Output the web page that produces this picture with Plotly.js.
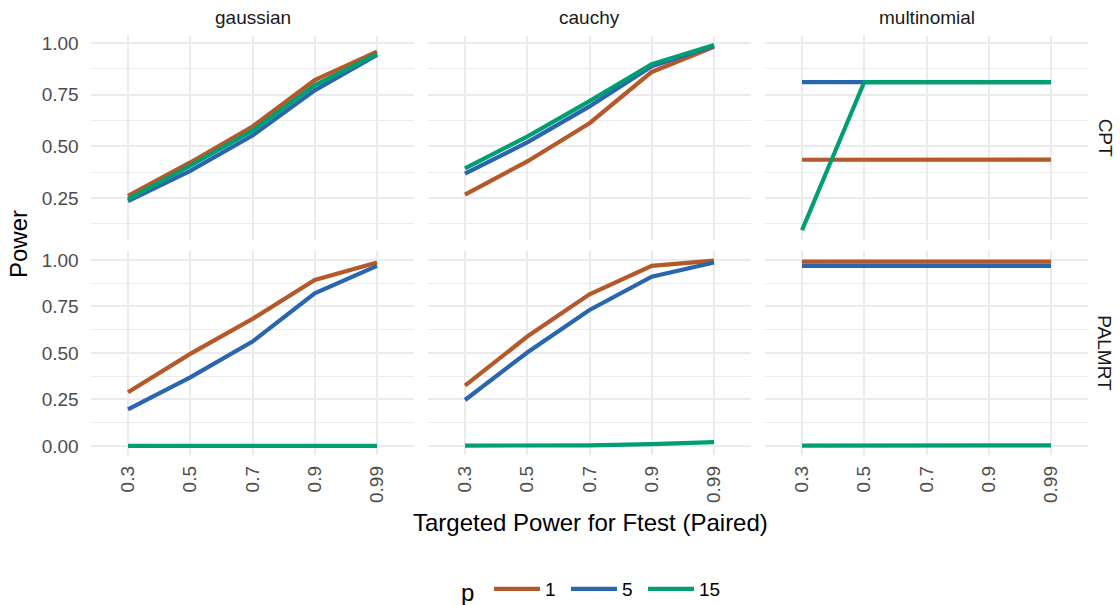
<!DOCTYPE html>
<html>
<head>
<meta charset="utf-8">
<script src="https://cdn.plot.ly/plotly-3.0.1.min.js"></script>
<style>html,body{margin:0;padding:0;background:#fff;}#chart{width:1120px;height:605px;}</style>
</head>
<body>
<div id="chart"></div>
<script>
// ---- Data ----
const targetPower = ["0.3", "0.5", "0.7", "0.9", "0.99"];
const distributions = ["gaussian", "cauchy", "multinomial"];
const tests = ["CPT", "PALMRT"];
const pLevels = ["1", "5", "15"];
const pColors = ["#B5592B", "#2A66AE", "#009E73"];

// CPT row
const cpt_gaussian_p1  = [0.260, 0.422, 0.596, 0.820, 0.958];
const cpt_gaussian_p5  = [0.235, 0.381, 0.552, 0.771, 0.942];
const cpt_gaussian_p15 = [0.245, 0.406, 0.576, 0.795, 0.946];
const cpt_cauchy_p1    = [0.266, 0.427, 0.612, 0.860, 0.982];
const cpt_cauchy_p5    = [0.368, 0.519, 0.693, 0.888, 0.987];
const cpt_cauchy_p15   = [0.393, 0.547, 0.719, 0.898, 0.990];
const cpt_multi_p1     = [0.435, 0.435, 0.435, 0.436, 0.436];
const cpt_multi_p5     = [0.811, 0.811, 0.811, 0.811, 0.811];
const cpt_multi_p15    = [0.094, 0.811, 0.811, 0.811, 0.811];

// PALMRT row
const palmrt_gaussian_p1  = [0.289, 0.495, 0.683, 0.892, 0.986];
const palmrt_gaussian_p5  = [0.197, 0.369, 0.561, 0.821, 0.968];
const palmrt_gaussian_p15 = [0.000, 0.000, 0.000, 0.000, 0.000];
const palmrt_cauchy_p1    = [0.324, 0.588, 0.815, 0.968, 0.996];
const palmrt_cauchy_p5    = [0.247, 0.502, 0.731, 0.910, 0.986];
const palmrt_cauchy_p15   = [0.002, 0.002, 0.003, 0.010, 0.021];
const palmrt_multi_p1     = [0.991, 0.991, 0.991, 0.991, 0.991];
const palmrt_multi_p5     = [0.968, 0.968, 0.968, 0.968, 0.968];
const palmrt_multi_p15    = [0.002, 0.002, 0.002, 0.003, 0.003];

const grid = [
  [[cpt_gaussian_p1, cpt_gaussian_p5, cpt_gaussian_p15],
   [cpt_cauchy_p1, cpt_cauchy_p5, cpt_cauchy_p15],
   [cpt_multi_p1, cpt_multi_p5, cpt_multi_p15]],
  [[palmrt_gaussian_p1, palmrt_gaussian_p5, palmrt_gaussian_p15],
   [palmrt_cauchy_p1, palmrt_cauchy_p5, palmrt_cauchy_p15],
   [palmrt_multi_p1, palmrt_multi_p5, palmrt_multi_p15]]
];

// ---- Layout geometry (pixels) ----
const W = 1120, H = 605;
const colPx = [[90.65, 414.35], [427.65, 751.35], [764.65, 1088.35]];
const rowPx = [[35.8, 239.5], [251.4, 455.2]];

const traces = [];
const layout = {
  width: W, height: H,
  margin: {l: 0, r: 0, t: 0, b: 0, autoexpand: false},
  paper_bgcolor: "#ffffff",
  plot_bgcolor: "rgba(0,0,0,0)",
  font: {family: "Liberation Sans, Arial, sans-serif", color: "#4D4D4D", size: 19},
  showlegend: true,
  legend: {
    orientation: "h", x: 459 / W, xanchor: "left", y: 1 - 591 / H, yanchor: "middle",
    title: {text: "p ", side: "left", font: {size: 24, color: "#000000"}},
    font: {size: 19, color: "#000000"},
    itemwidth: 46, entrywidth: 16, entrywidthmode: "pixels",
    traceorder: "normal", tracegroupgap: 0, bgcolor: "rgba(0,0,0,0)"
  },
  annotations: []
};

function rowRange(r) {
  let mn = Infinity, mx = -Infinity;
  grid[r].forEach(col => col.forEach(s => s.forEach(v => { mn = Math.min(mn, v); mx = Math.max(mx, v); })));
  const e = (mx - mn) * 0.05;
  return [mn - e, mx + e];
}

let idx = 0;
for (let r = 0; r < 2; r++) {
  const yr = rowRange(r);
  for (let c = 0; c < 3; c++) {
    idx++;
    const xn = idx === 1 ? "xaxis" : "xaxis" + idx;
    const yn = idx === 1 ? "yaxis" : "yaxis" + idx;
    const xref = idx === 1 ? "x" : "x" + idx;
    const yref = idx === 1 ? "y" : "y" + idx;
    layout[xn] = {
      domain: [colPx[c][0] / W, colPx[c][1] / W],
      anchor: yref,
      type: "category",
      categoryorder: "array", categoryarray: targetPower,
      range: [-0.6, targetPower.length - 0.4],
      showgrid: true, gridcolor: "#EBEBEB", gridwidth: 2,
      zeroline: false, showline: false, ticks: "",
      showticklabels: r === 1,
      tickangle: -90,
      ticklabelstandoff: 6,
      tickfont: {size: 19, color: "#4D4D4D"},
      automargin: false,
      fixedrange: true
    };
    layout[yn] = {
      domain: [1 - rowPx[r][1] / H, 1 - rowPx[r][0] / H],
      anchor: xref,
      range: yr,
      dtick: 0.25, tick0: 0,
      tickformat: ".2f",
      showgrid: true, gridcolor: "#EBEBEB", gridwidth: 2,
      minor: {dtick: 0.125, tick0: 0.125, showgrid: true, gridcolor: "#EBEBEB", gridwidth: 1, ticks: ""},
      zeroline: false, showline: false, ticks: "",
      showticklabels: c === 0,
      ticklabelstandoff: 11,
      tickfont: {size: 19, color: "#4D4D4D"},
      automargin: false,
      fixedrange: true
    };
    for (let k = 0; k < 3; k++) {
      traces.push({
        type: "scatter", mode: "lines",
        x: targetPower, y: grid[r][c][k],
        xaxis: xref, yaxis: yref,
        name: pLevels[k], legendgroup: pLevels[k],
        showlegend: idx === 1,
        line: {color: pColors[k], width: 4.2},
        hoverinfo: "skip"
      });
    }
  }
}

// strip labels (columns)
distributions.forEach((d, c) => {
  layout.annotations.push({
    text: d, xref: "paper", yref: "paper",
    x: (colPx[c][0] + colPx[c][1]) / 2 / W, y: 1 - 17 / H,
    xanchor: "center", yanchor: "middle", showarrow: false,
    font: {size: 19, color: "#1A1A1A"}
  });
});
// strip labels (rows)
tests.forEach((t, r) => {
  layout.annotations.push({
    text: t, xref: "paper", yref: "paper",
    x: 1105 / W, y: 1 - (rowPx[r][0] + rowPx[r][1]) / 2 / H,
    xanchor: "center", yanchor: "middle", showarrow: false, textangle: 90,
    font: {size: 19, color: "#1A1A1A"}
  });
});
// axis titles
layout.annotations.push({
  text: "Power", xref: "paper", yref: "paper",
  x: 18 / W, y: 1 - 244 / H, xanchor: "center", yanchor: "middle",
  showarrow: false, textangle: -90, font: {size: 24, color: "#000000"}
});
layout.annotations.push({
  text: "Targeted Power for Ftest (Paired)", xref: "paper", yref: "paper",
  x: 590 / W, y: 1 - 522 / H, xanchor: "center", yanchor: "middle",
  showarrow: false, font: {size: 24, color: "#000000"}
});

Plotly.newPlot("chart", traces, layout, {displayModeBar: false, staticPlot: true});
</script>
</body>
</html>
